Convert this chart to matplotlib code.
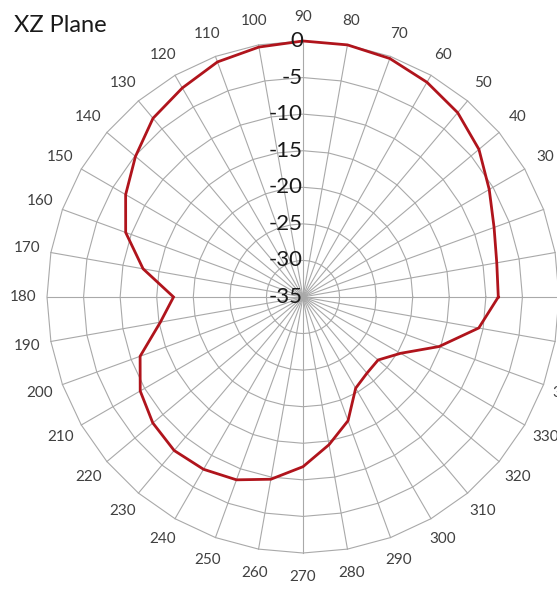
import numpy as np
import matplotlib
matplotlib.use("Agg")
import matplotlib.pyplot as plt

plt.rcParams['font.family'] = ['Lato', 'DejaVu Sans']

# ---- data ----
angles_deg = list(range(0, 360, 10))
gain_db = [-8.3, -8.1, -7.2, -5.6, -3.6, -2.1, -1.1, -0.3, 0.0, 0.0,
           -0.3, -0.8, -2.0, -3.1, -5.1, -7.0, -9.2, -12.8, -17.3, -15.2,
           -11.3, -9.3, -8.2, -7.6, -7.8, -8.4, -9.7, -11.8, -14.5, -17.0,
           -20.6, -21.4, -21.6, -19.6, -15.2, -10.6]
ring_levels = [-30, -25, -20, -15, -10, -5, 0]
radial_labels = ['-35', '-30', '-25', '-20', '-15', '-10', '-5', '0']
radial_values = [-35, -30, -25, -20, -15, -10, -5, 0]
angle_labels = [str(a) for a in angles_deg]
title = "XZ Plane"

RMIN, RMAX = -35, 0

W, H = 557, 592
fig = plt.figure(figsize=(W / 100, H / 100), dpi=100)
cx, cy, R = 303, 297, 256
ax = fig.add_axes([(cx - R) / W, (H - cy - R) / H, 2 * R / W, 2 * R / H],
                  projection='polar')
ax.set_ylim(RMIN, RMAX)
ax.set_xticks([])
ax.set_yticks([])
ax.grid(False)
ax.spines['polar'].set_visible(False)
ax.patch.set_alpha(0)

theta = np.deg2rad(angles_deg)
theta_closed = np.append(theta, theta[0])
grid_col = '#a9a9a9'

# polygonal rings
for lv in ring_levels:
    ax.plot(theta_closed, [lv] * len(theta_closed), color=grid_col,
            lw=0.8, clip_on=False, zorder=1)
# spokes
for t in theta:
    ax.plot([t, t], [RMIN, RMAX], color=grid_col, lw=0.8, clip_on=False, zorder=1)

# data curve
vals = np.array(gain_db)
ax.plot(theta_closed, np.append(vals, vals[0]), color='#b0141c', lw=2.0,
        clip_on=False, zorder=3, solid_joinstyle='miter')

# angle labels
r_lab = RMIN + (RMAX - RMIN) * (280 / 256)
for t, lab in zip(theta, angle_labels):
    ax.text(t, r_lab, lab, ha='center', va='center', fontsize=11,
            color='#404040', clip_on=False)

# radial labels
for v, lab in zip(radial_values, radial_labels):
    ax.text(np.deg2rad(90), v, lab, ha='right', va='center', fontsize=16,
            color='#1a1a1a', zorder=4)

fig.text(14 / W, 1 - 32 / H, title, fontsize=17, color='#1a1a1a',
         ha='left', va='baseline')

fig.savefig('out.png', dpi=100, facecolor='white')
